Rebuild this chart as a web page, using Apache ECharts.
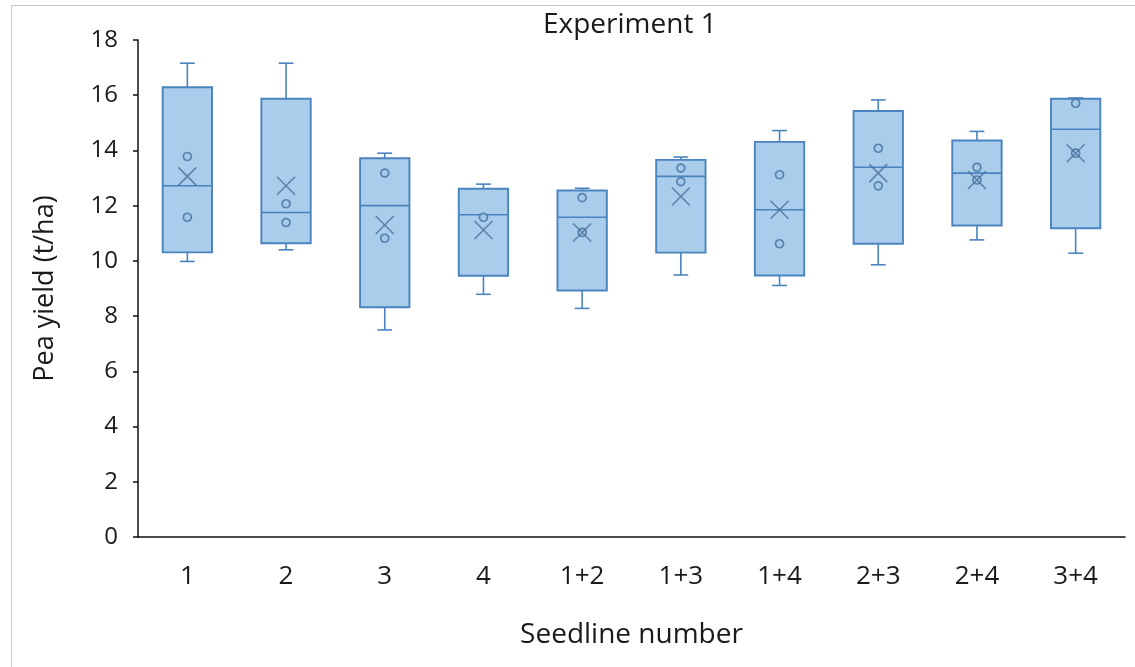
<!DOCTYPE html>
<html>
<head>
<meta charset="utf-8">
<script src="https://cdn.jsdelivr.net/npm/echarts@6/dist/echarts.min.js"></script>
<style>
  html, body { margin: 0; padding: 0; background: #fff; }
  #frame { position: absolute; left: 11px; top: 5px; width: 1124px; height: 662px;
           border-top: 1.5px solid #c8c8c8; border-left: 1.5px solid #c8c8c8; }
  #chart { position: absolute; left: 0; top: 0; width: 1135px; height: 667px; }
</style>
</head>
<body>
<div id="frame"></div>
<div id="chart"></div>
<script>
// ---- data ----
const categories = ['1', '2', '3', '4', '1+2', '1+3', '1+4', '2+3', '2+4', '3+4'];
const whiskerLow  = [9.98, 10.40, 7.50, 8.79, 8.28, 9.49, 9.11, 9.86, 10.76, 10.28];
const q1          = [10.31, 10.64, 8.32, 9.46, 8.93, 10.30, 9.47, 10.62, 11.28, 11.18];
const median      = [12.72, 11.75, 12.00, 11.67, 11.58, 13.06, 11.85, 13.39, 13.18, 14.77];
const q3          = [16.29, 15.87, 13.72, 12.61, 12.55, 13.66, 14.31, 15.43, 14.36, 15.87];
const whiskerHigh = [17.16, 17.16, 13.90, 12.78, 12.63, 13.76, 14.72, 15.83, 14.69, 15.90];
const meanValues  = [13.06, 12.72, 11.30, 11.12, 11.03, 12.33, 11.85, 13.18, 12.93, 13.90];
const innerPoints = [
  ['1', 13.78], ['1', 11.58],
  ['2', 12.07], ['2', 11.39],
  ['3', 13.18], ['3', 10.82],
  ['4', 11.58],
  ['1+2', 12.29], ['1+2', 11.03],
  ['1+3', 13.36], ['1+3', 12.87],
  ['1+4', 13.12], ['1+4', 10.62],
  ['2+3', 14.08], ['2+3', 12.72],
  ['2+4', 13.39], ['2+4', 12.93],
  ['3+4', 15.71], ['3+4', 13.90]
];
const yTicks = { min: 0, max: 18, interval: 2 };

// ---- build ----
const boxRows = categories.map((c, i) => [i, whiskerLow[i], q1[i], median[i], q3[i], whiskerHigh[i]]);
const meanRows = categories.map((c, i) => [c, meanValues[i]]);

const FILL = '#abcdec';
const STROKE = '#4a84bf';
const FONT = 'Open Sans';
const TXT = '#1a1a1a';

const chart = echarts.init(document.getElementById('chart'), null, { renderer: 'canvas' });

function renderBox(params, api) {
  const idx = api.value(0);
  const band = api.size([1, 0])[0];
  const bw = band * 0.5;
  const cw = band * 0.15;
  const pLow = api.coord([idx, api.value(1)]);
  const pQ1 = api.coord([idx, api.value(2)]);
  const pMed = api.coord([idx, api.value(3)]);
  const pQ3 = api.coord([idx, api.value(4)]);
  const pHigh = api.coord([idx, api.value(5)]);
  const x = pMed[0];
  const lineStyle = { stroke: STROKE, lineWidth: 1.6 };
  return {
    type: 'group',
    children: [
      { type: 'line', shape: { x1: x, y1: pQ3[1], x2: x, y2: pHigh[1] }, style: lineStyle },
      { type: 'line', shape: { x1: x - cw / 2, y1: pHigh[1], x2: x + cw / 2, y2: pHigh[1] }, style: lineStyle },
      { type: 'line', shape: { x1: x, y1: pQ1[1], x2: x, y2: pLow[1] }, style: lineStyle },
      { type: 'line', shape: { x1: x - cw / 2, y1: pLow[1], x2: x + cw / 2, y2: pLow[1] }, style: lineStyle },
      { type: 'rect', shape: { x: x - bw / 2, y: pQ3[1], width: bw, height: pQ1[1] - pQ3[1] },
        style: { fill: FILL, stroke: STROKE, lineWidth: 1.9 } },
      { type: 'line', shape: { x1: x - bw / 2, y1: pMed[1], x2: x + bw / 2, y2: pMed[1] },
        style: { stroke: STROKE, lineWidth: 1.6 } }
    ]
  };
}

const xPath = 'path://M0,0L10,10M10,0L0,10';

chart.setOption({
  animation: false,
  title: {
    text: 'Experiment 1',
    left: 538, top: 6,
    textStyle: { fontFamily: FONT, fontSize: 28, fontWeight: 'normal', color: TXT }
  },
  grid: { left: 138, right: 10, top: 40, bottom: 130, containLabel: false },
  xAxis: {
    type: 'category',
    data: categories,
    name: 'Seedline number',
    nameLocation: 'middle',
    nameGap: 84,
    nameTextStyle: { fontFamily: FONT, fontSize: 28, color: TXT },
    axisLine: { show: true, lineStyle: { color: '#111', width: 1.5 } },
    axisTick: { show: false },
    axisLabel: { fontFamily: FONT, fontSize: 26, color: TXT, margin: 27 },
    splitLine: { show: false }
  },
  yAxis: {
    type: 'value',
    min: yTicks.min, max: yTicks.max, interval: yTicks.interval,
    name: 'Pea yield (t/ha)',
    nameLocation: 'middle',
    nameGap: 79,
    nameTextStyle: { fontFamily: FONT, fontSize: 27, color: TXT },
    axisLine: { show: true, lineStyle: { color: '#111', width: 1.5 } },
    axisTick: { show: true, length: 5, inside: false, lineStyle: { color: '#111', width: 1.5 } },
    axisLabel: { fontFamily: FONT, fontSize: 24, color: TXT, margin: 20 },
    splitLine: { show: false }
  },
  series: [
    {
      type: 'custom',
      renderItem: renderBox,
      encode: { x: 0, y: [1, 2, 3, 4, 5] },
      data: boxRows,
      z: 2
    },
    {
      type: 'scatter',
      data: innerPoints,
      symbol: 'circle',
      symbolSize: 8,
      itemStyle: { color: '#a5c8ea', borderColor: '#41709f', borderWidth: 1.7 },
      z: 3
    },
    {
      type: 'scatter',
      data: meanRows,
      symbol: xPath,
      symbolSize: 18,
      itemStyle: { color: 'none', borderColor: '#4b6f99', borderWidth: 1.6 },
      z: 4
    }
  ]
});
</script>
</body>
</html>
